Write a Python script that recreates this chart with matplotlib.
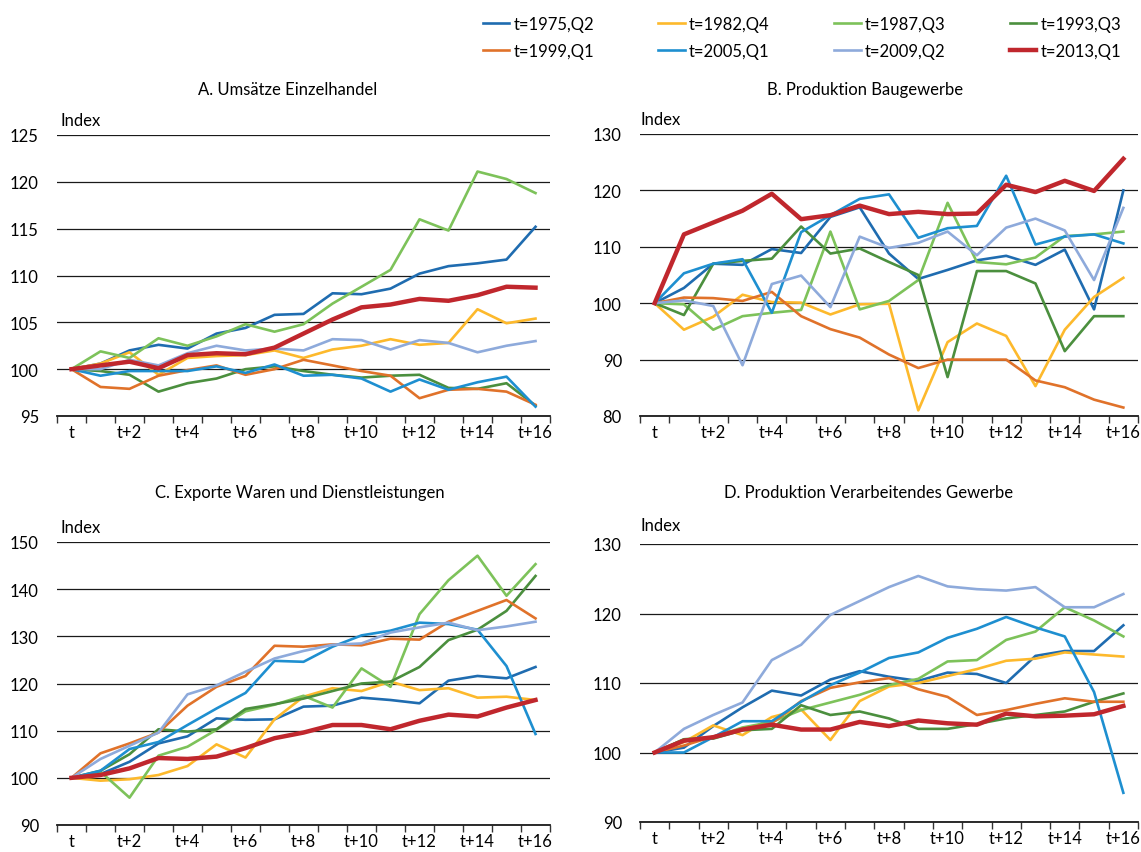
import numpy as np
import matplotlib.pyplot as plt

plt.rcParams['font.family'] = ['Lato', 'DejaVu Sans']

# quarters where t starts, one series per quarter
quarters = ["t=1975,Q2", "t=1982,Q4", "t=1987,Q3", "t=1993,Q3",
            "t=1999,Q1", "t=2005,Q1", "t=2009,Q2", "t=2013,Q1"]
colors = ["#1f6cb0", "#fdb92c", "#7dc25a", "#4b8f3e",
          "#e0722a", "#1e8fd0", "#8eaadb", "#c0272d"]

periods = np.arange(17)
tick_pos = [0, 2, 4, 6, 8, 10, 12, 14, 16]
tick_labels = ["t", "t+2", "t+4", "t+6", "t+8", "t+10", "t+12", "t+14", "t+16"]

# A. Umsaetze Einzelhandel
einzelhandel = [
    [100, 100.6, 102.0, 102.6, 102.2, 103.8, 104.4, 105.8, 105.9, 108.1, 108.0, 108.6, 110.2, 111.0, 111.3, 111.7, 115.2],
    [100, 100.6, 101.8, 99.4, 101.2, 101.4, 101.5, 102.0, 101.2, 102.1, 102.5, 103.2, 102.6, 102.8, 106.4, 104.9, 105.4],
    [100, 101.9, 101.2, 103.3, 102.5, 103.5, 104.8, 104.0, 104.8, 107.0, 108.8, 110.6, 116.0, 114.8, 121.1, 120.3, 118.8],
    [100, 99.8, 99.4, 97.6, 98.5, 99.0, 100.0, 100.3, 99.8, 99.4, 99.1, 99.3, 99.4, 98.0, 97.9, 98.5, 96.1],
    [100, 98.1, 97.9, 99.3, 99.9, 100.4, 99.4, 100.0, 101.0, 100.4, 99.8, 99.3, 96.9, 97.8, 97.9, 97.6, 96.2],
    [100, 99.3, 99.8, 99.8, 99.8, 100.3, 99.6, 100.5, 99.3, 99.4, 99.0, 97.6, 98.9, 97.8, 98.6, 99.2, 96.0],
    [100, 100.0, 101.0, 100.4, 101.7, 102.5, 102.0, 102.2, 102.0, 103.2, 103.1, 102.1, 103.1, 102.8, 101.8, 102.5, 103.0],
    [100, 100.4, 100.8, 100.1, 101.5, 101.7, 101.6, 102.3, 103.8, 105.3, 106.6, 106.9, 107.5, 107.3, 107.9, 108.8, 108.7],
]

# B. Produktion Baugewerbe
baugewerbe = [
    [100, 102.7, 107.0, 106.8, 109.6, 108.9, 115.3, 117.0, 108.8, 104.3, 105.9, 107.6, 108.4, 106.8, 109.5, 98.9, 120.0],
    [100, 95.3, 97.6, 101.5, 100.2, 100.1, 98.0, 99.8, 99.9, 81.0, 93.1, 96.4, 94.2, 85.3, 95.3, 101.1, 104.5],
    [100, 99.8, 95.3, 97.7, 98.3, 98.8, 112.7, 98.9, 100.4, 104.1, 117.8, 107.3, 106.9, 108.1, 111.9, 112.2, 112.7],
    [100, 97.9, 107.0, 107.5, 107.9, 113.6, 108.8, 109.7, 107.3, 105.0, 86.9, 105.7, 105.7, 103.5, 91.5, 97.7, 97.7],
    [100, 101.0, 100.9, 100.4, 102.0, 97.7, 95.4, 93.9, 90.9, 88.5, 90.0, 90.0, 90.0, 86.3, 85.1, 82.9, 81.5],
    [100, 105.3, 107.0, 107.8, 98.3, 112.6, 115.6, 118.5, 119.3, 111.6, 113.3, 113.7, 122.6, 110.4, 111.8, 112.2, 110.6],
    [100, 100.5, 99.5, 89.0, 103.4, 104.9, 99.3, 111.8, 109.8, 110.7, 112.7, 108.5, 113.4, 115.0, 112.9, 104.1, 116.9],
    [100, 112.2, 114.3, 116.4, 119.4, 114.9, 115.6, 117.3, 115.8, 116.2, 115.8, 115.9, 121.0, 119.7, 121.7, 119.9, 125.6],
]

# C. Exporte Waren und Dienstleistungen
exporte = [
    [100, 100.8, 103.4, 107.3, 108.8, 112.6, 112.3, 112.4, 115.1, 115.3, 117.0, 116.5, 115.8, 120.6, 121.6, 121.1, 123.5],
    [100, 99.4, 99.7, 100.6, 102.5, 107.1, 104.3, 112.4, 117.2, 119.0, 118.4, 120.4, 118.6, 119.0, 117.0, 117.2, 116.5],
    [100, 101.3, 95.8, 104.7, 106.6, 110.2, 114.1, 115.5, 117.4, 114.9, 123.2, 119.3, 134.7, 141.9, 147.1, 138.6, 145.3],
    [100, 101.5, 105.0, 110.3, 109.8, 110.3, 114.6, 115.6, 116.8, 118.4, 120.0, 120.4, 123.5, 129.2, 131.4, 135.4, 142.8],
    [100, 105.2, 107.3, 109.6, 115.3, 119.3, 121.6, 128.0, 127.8, 128.3, 128.1, 129.5, 129.3, 133.1, 135.4, 137.7, 133.8],
    [100, 101.5, 106.1, 107.6, 111.2, 114.7, 118.0, 124.8, 124.6, 127.8, 130.2, 131.2, 132.9, 132.6, 131.4, 123.7, 109.3],
    [100, 104.0, 106.8, 109.6, 117.7, 119.6, 122.5, 125.3, 126.9, 128.2, 128.5, 130.8, 131.9, 132.9, 131.3, 132.1, 133.1],
    [100, 100.6, 102.0, 104.2, 104.0, 104.5, 106.3, 108.4, 109.6, 111.2, 111.2, 110.3, 112.1, 113.4, 113.0, 114.9, 116.5],
]

# D. Produktion Verarbeitendes Gewerbe
verarbeitung = [
    [100, 100.7, 103.8, 106.5, 108.9, 108.2, 110.5, 111.7, 110.9, 110.3, 111.5, 111.3, 110.0, 113.9, 114.6, 114.6, 118.3],
    [100, 101.5, 103.9, 102.5, 105.1, 106.2, 101.8, 107.4, 109.5, 110.0, 111.0, 112.0, 113.2, 113.5, 114.4, 114.1, 113.8],
    [100, 101.9, 102.2, 103.6, 104.4, 106.1, 107.2, 108.3, 109.7, 110.6, 113.1, 113.3, 116.2, 117.4, 120.9, 119.0, 116.7],
    [100, 101.9, 102.0, 103.2, 103.4, 106.8, 105.4, 105.9, 104.9, 103.4, 103.4, 104.1, 104.9, 105.4, 105.9, 107.3, 108.5],
    [100, 101.0, 102.3, 103.4, 104.2, 107.4, 109.3, 110.1, 110.7, 109.1, 108.0, 105.4, 106.1, 107.0, 107.8, 107.3, 107.3],
    [100, 100.0, 102.2, 104.5, 104.5, 107.3, 109.7, 111.5, 113.6, 114.4, 116.5, 117.8, 119.5, 118.0, 116.7, 108.7, 94.2],
    [100, 103.4, 105.4, 107.2, 113.3, 115.5, 119.8, 121.8, 123.8, 125.4, 123.9, 123.5, 123.3, 123.8, 120.9, 120.9, 122.8],
    [100, 101.7, 102.2, 103.3, 104.0, 103.3, 103.3, 104.4, 103.8, 104.6, 104.2, 104.0, 105.6, 105.2, 105.3, 105.5, 106.7],
]

W, H = 1141, 853


def rect(x0, y0, x1, y1):
    # pixel box (top-left origin) -> figure fraction
    return [x0 / W, 1 - y1 / H, (x1 - x0) / W, (y1 - y0) / H]


def panel(fig, box, data, yticks, title, title_x, title_y, index_xy):
    ax = fig.add_axes(rect(*box))
    for i in range(len(data)):
        last = i == len(data) - 1
        ax.plot(periods, data[i], color=colors[i], lw=3.2 if last else 1.9, zorder=4 if last else 3)
    ax.set_xlim(-0.5, 16.5)
    ax.set_ylim(yticks[0], yticks[-1])
    ax.set_yticks(yticks)
    ax.set_yticklabels([str(v) for v in yticks], fontsize=12)
    ax.tick_params(axis='y', length=0, pad=13)
    ax.yaxis.grid(True, color='#1a1a1a', lw=0.9)
    ax.set_axisbelow(True)
    # labels under every second quarter, tick marks between quarters
    ax.set_xticks(tick_pos)
    ax.set_xticklabels(tick_labels, fontsize=12)
    ax.tick_params(axis='x', which='major', length=0, pad=6)
    ax.set_xticks(np.arange(-0.5, 17, 1), minor=True)
    ax.tick_params(axis='x', which='minor', length=5, width=1, color='#333333', direction='out')
    for s in ['left', 'right', 'top']:
        ax.spines[s].set_visible(False)
    ax.spines['bottom'].set_color('#1a1a1a')
    ax.spines['bottom'].set_linewidth(1.3)
    fig.text(title_x / W, 1 - title_y / H, title, ha='center', va='center', fontsize=12)
    fig.text(index_xy[0] / W, 1 - index_xy[1] / H, "Index", ha='left', va='center', fontsize=12)
    return ax


def main():
    fig = plt.figure(figsize=(W / 100, H / 100), dpi=100)

    ax = panel(fig, (57, 136, 550, 417), einzelhandel, [95, 100, 105, 110, 115, 120, 125],
               "A. Umsätze Einzelhandel", 288, 90, (60, 121))
    panel(fig, (640, 135, 1138, 417), baugewerbe, [80, 90, 100, 110, 120, 130],
          "B. Produktion Baugewerbe", 865, 90, (641, 120))
    panel(fig, (57, 543, 550, 826), exporte, [90, 100, 110, 120, 130, 140, 150],
          "C. Exporte Waren und Dienstleistungen", 300, 493, (60, 528))
    panel(fig, (640, 545, 1138, 823), verarbeitung, [90, 100, 110, 120, 130],
          "D. Produktion Verarbeitendes Gewerbe", 869, 493, (641, 526))

    handles = ax.get_lines()
    order = [0, 4, 1, 5, 2, 6, 3, 7]
    fig.legend([handles[i] for i in order], [quarters[i] for i in order],
               ncol=4, loc='upper left', bbox_to_anchor=(476 / W, 1 - 10 / H),
               frameon=False, fontsize=12, handlelength=1.6, handletextpad=0.25,
               columnspacing=3.85, labelspacing=0.65, borderaxespad=0)

    fig.savefig("out.png", dpi=100)


if __name__ == "__main__":
    main()
